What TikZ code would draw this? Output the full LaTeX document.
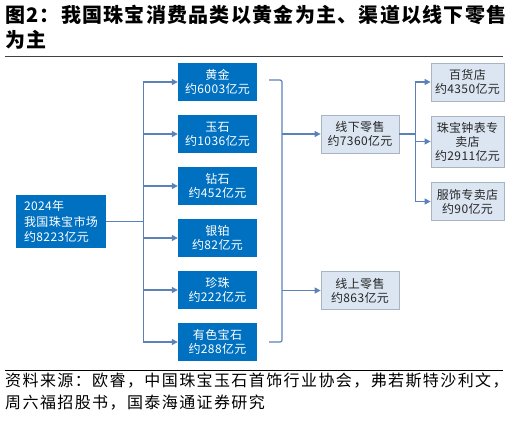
\documentclass[tikz,border=0pt]{standalone}
\usepackage{fontspec}
\setmainfont{Noto Sans CJK SC}
\usetikzlibrary{arrows.meta}
\definecolor{boxblue}{HTML}{0070C0}
\definecolor{linkblue}{HTML}{5B82B8}
\definecolor{palebox}{HTML}{DCE6F2}
\definecolor{paleedge}{HTML}{A9B4C2}
\definecolor{rulegray}{HTML}{404040}
\begin{document}
\begin{tikzpicture}[x=1pt,y=-1pt,
  catbox/.style={fill=boxblue, text=white, minimum width=79pt, minimum height=38pt, inner sep=0pt, align=center, font=\fontsize{12}{14}\selectfont\addfontfeature{LetterSpace=3}},
  chanbox/.style={fill=palebox, draw=paleedge, line width=0.8pt, text=black!85, minimum width=78pt, minimum height=38pt, inner sep=0pt, align=center, font=\fontsize{12}{14}\selectfont\addfontfeature{LetterSpace=3}},
  shopbox/.style={chanbox, minimum width=73pt},
  link/.style={draw=linkblue, line width=1.2pt},
  arr/.style={link, -{Triangle[length=6pt,width=6pt]}},
  titletext/.style={anchor=west, inner sep=0pt, font=\fontsize{20}{22}\selectfont\bfseries\addfontfeature{LetterSpace=6.3}},
  srctext/.style={anchor=west, inner sep=0pt, font=\fontsize{16}{18}\selectfont\addfontfeature{LetterSpace=8.8}},
]
\useasboundingbox (0,0) rectangle (510,420);

% title
\node[titletext] (t1) at (5,15) {图2：我国珠宝消费品类以黄金为主、渠道以线下零售};
\node[titletext] (t2) at (5,40) {为主};
\draw[rulegray, line width=1.5pt] (5,56.5) -- (503,56.5);

% root
\node[fill=boxblue, text=white, minimum width=90pt, minimum height=53pt, inner sep=0pt, align=left, font=\fontsize{12}{15.5}\selectfont\addfontfeature{LetterSpace=3}] (root) at (61,221.5) {2024年\\我国珠宝市场\\约8223亿元};

% categories
\node[catbox] (c1) at (217.5,82) {黄金\\约6003亿元};
\node[catbox] (c2) at (217.5,134) {玉石\\约1036亿元};
\node[catbox] (c3) at (217.5,186) {钻石\\约452亿元};
\node[catbox] (c4) at (217.5,238) {银铂\\约82亿元};
\node[catbox] (c5) at (217.5,290) {珍珠\\约222亿元};
\node[catbox] (c6) at (217.5,342) {有色宝石\\约288亿元};

\foreach \c in {c1,c2,c3,c4,c5,c6}
  \draw[arr] (root.east) -- ++(37,0) |- (\c.west);

% channels
\node[chanbox] (off) at (360,134) {线下零售\\约7360亿元};
\node[chanbox] (on) at (360,290.5) {线上零售\\约863亿元};

\coordinate (btop) at (269,80);
\coordinate (bbot) at (269,342);
\coordinate (boff) at (282,134);
\coordinate (bon) at (282,290.5);
\draw[link, rounded corners=2pt] (btop) -- ++(13,0) -- ++(0,262) -- (bbot);
\draw[arr] (boff) -- (off.west);
\draw[arr] (bon) -- (on.west);

% shops
\node[shopbox] (s1) at (467.5,82) {百货店\\约4350亿元};
\node[shopbox, minimum height=51pt] (s2) at (467.5,141.5) {珠宝钟表专\\卖店\\约2911亿元};
\node[shopbox] (s3) at (467.5,201.5) {服饰专卖店\\约90亿元};
\foreach \s in {s1,s2,s3}
  \draw[arr] (off.east) -- ++(16,0) |- (\s.west);

% source
\draw[black, line width=1pt] (5,370.5) -- (503,370.5);
\node[srctext] (src1) at (5,381) {资料来源：欧睿，中国珠宝玉石首饰行业协会，弗若斯特沙利文，};
\node[srctext] (src2) at (5,403) {周六福招股书，国泰海通证券研究};
\end{tikzpicture}
\end{document}
